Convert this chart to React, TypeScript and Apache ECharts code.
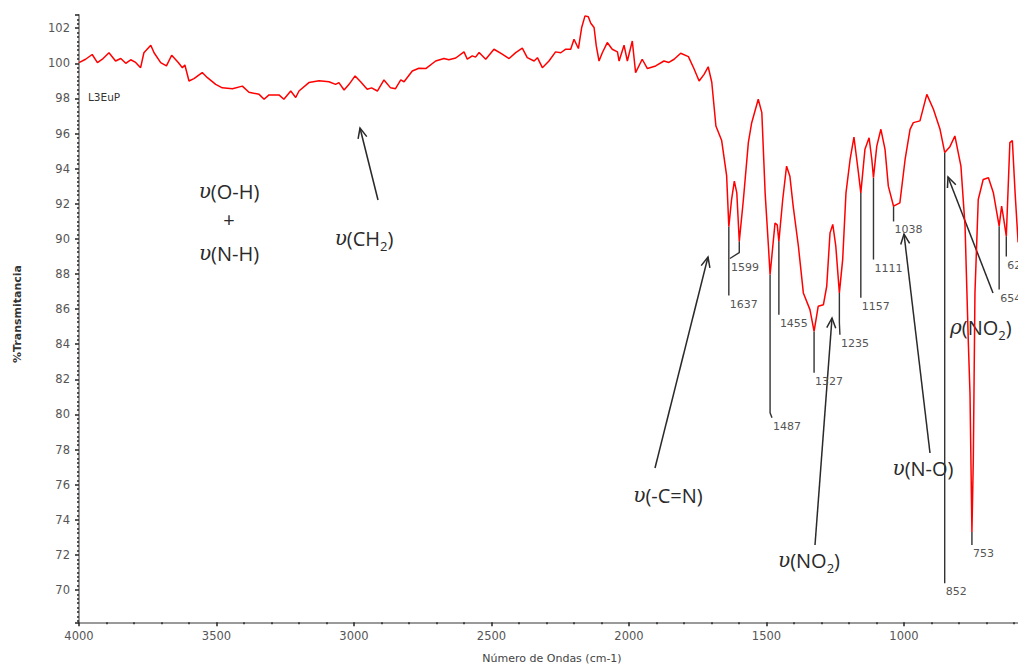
import React, { useEffect, useRef } from "react";
import * as echarts from "echarts";

// IR spectrum (wavenumber cm-1, %T)
const wavenumbers = [
  4000, 3976, 3952, 3933, 3915, 3891, 3867, 3848, 3830, 3812, 3794, 3776, 3764, 3739, 3727, 3703,
  3682, 3663, 3639, 3624, 3615, 3600, 3582, 3552, 3533, 3503, 3479, 3442, 3406, 3382, 3345, 3327,
  3309, 3273, 3255, 3230, 3212, 3200, 3164, 3127, 3091, 3067, 3055, 3036, 3018, 2996, 2976, 2952,
  2936, 2915, 2891, 2867, 2849, 2830, 2818, 2788, 2764, 2739, 2703, 2673, 2655, 2630, 2600, 2588,
  2570, 2558, 2545, 2521, 2491, 2461, 2436, 2412, 2388, 2370, 2345, 2333, 2315, 2291, 2267, 2248,
  2230, 2212, 2200, 2184, 2172, 2160, 2148, 2139, 2127, 2119, 2109, 2097, 2079, 2061, 2042, 2036,
  2018, 2006, 1997, 1988, 1976, 1952, 1933, 1903, 1873, 1855, 1836, 1812, 1784, 1764, 1745, 1727,
  1712, 1699, 1684, 1663, 1645, 1637, 1627, 1617, 1608, 1599, 1584, 1566, 1554, 1530, 1517, 1505,
  1493, 1487, 1469, 1461, 1455, 1441, 1427, 1415, 1403, 1384, 1366, 1342, 1327, 1312, 1293, 1281,
  1269, 1259, 1248, 1235, 1223, 1211, 1196, 1182, 1166, 1157, 1142, 1127, 1117, 1111, 1099, 1084,
  1069, 1057, 1038, 1015, 996, 978, 966, 942, 917, 893, 869, 852, 833, 815, 793, 778,
  766, 760, 753, 748, 742, 730, 712, 693, 675, 654, 645, 639, 628, 615, 606, 596, 585,
];
const transmittance = [
  100.04, 100.23, 100.5, 100.04, 100.23, 100.6, 100.13, 100.27, 100.0, 100.2, 100.05, 99.75, 100.6, 101.03, 100.6, 100.04,
  99.85, 100.46, 100.04, 99.75, 99.9, 98.99, 99.13, 99.47, 99.18, 98.8, 98.6, 98.55, 98.7, 98.35, 98.23, 97.95,
  98.2, 98.2, 97.95, 98.42, 98.05, 98.42, 98.9, 99.0, 98.95, 98.8, 98.9, 98.48, 98.8, 99.28, 98.95, 98.52,
  98.6, 98.42, 99.05, 98.6, 98.55, 99.05, 98.95, 99.56, 99.72, 99.7, 100.13, 100.27, 100.2, 100.3, 100.65, 100.23,
  100.42, 100.35, 100.61, 100.23, 100.8, 100.52, 100.27, 100.61, 100.86, 100.32, 100.13, 100.32, 99.75, 100.13, 100.65, 100.6,
  100.8, 100.8, 101.37, 100.84, 102.04, 102.7, 102.65, 102.28, 102.04, 100.99, 100.13, 100.6, 101.18, 100.8, 100.65, 100.13,
  101.03, 100.13, 100.7, 101.27, 99.47, 100.23, 99.7, 99.85, 100.13, 100.05, 100.23, 100.57, 100.38, 99.7, 98.99, 99.37,
  99.8, 98.92, 96.43, 95.6, 93.6, 90.7, 92.24, 93.29, 92.62, 89.86, 92.24, 95.48, 96.6, 97.95, 97.19, 92.62,
  89.58, 87.96, 90.9, 90.8, 89.86, 92.24, 94.14, 93.57, 91.86, 89.58, 86.92, 85.97, 84.73, 86.16, 86.25, 87.3,
  90.34, 90.82, 89.58, 86.92, 88.82, 92.62, 94.52, 95.8, 93.8, 92.62, 95.1, 95.76, 94.52, 93.48, 95.28, 96.24,
  95.1, 93.0, 91.86, 92.05, 94.52, 96.24, 96.62, 96.72, 98.23, 97.38, 96.24, 94.92, 95.25, 95.86, 94.14, 90.72,
  84.07, 81.2, 73.3, 77.41, 86.92, 92.24, 93.38, 93.48, 92.62, 90.72, 91.86, 91.3, 90.15, 95.48, 95.6, 92.62, 89.8,
];

// Labelled peaks
const peakWn = [1637, 1599, 1487, 1455, 1327, 1235, 1157, 1111, 1038, 852, 753, 654, 628];
// leader-line layout (end of the vertical leader, in %T) and optional jog point
const leaderEndT = [86.77, 89.22, 80.09, 85.68, 82.37, 85.23, 86.65, 88.82, 90.99, 70.39, 72.56, 87.11, 88.99];
const leaderJog: Array<[number, number] | null> = [
  null, [1633, 88.88], [1480, 79.81], null, null, [1233, 84.54], null, null, null, null, null, null, null,
];

const nearestT = (wn: number) => {
  let best = 0;
  for (let i = 1; i < wavenumbers.length; i++) {
    if (Math.abs(wavenumbers[i] - wn) < Math.abs(wavenumbers[best] - wn)) best = i;
  }
  return transmittance[best];
};

const INK = "#2a2a2a";

function arrow(x1: number, y1: number, x2: number, y2: number) {
  const ang = Math.atan2(y2 - y1, x2 - x1);
  const L = 11;
  const a = 0.42;
  const l = [x2 - L * Math.cos(ang - a), y2 - L * Math.sin(ang - a)];
  const r = [x2 - L * Math.cos(ang + a), y2 - L * Math.sin(ang + a)];
  return [
    { type: "line", shape: { x1, y1, x2, y2 }, style: { stroke: INK, lineWidth: 1.5 }, silent: true },
    { type: "polyline", shape: { points: [l, [x2, y2], r] }, style: { stroke: INK, lineWidth: 1.5, fill: null }, silent: true },
  ];
}

const richStyles = {
  g: { fontFamily: "DejaVu Serif", fontStyle: "italic", fontSize: 20, lineHeight: 28, fill: INK },
  t: { fontFamily: "Open Sans", fontSize: 20, lineHeight: 28, fill: INK },
  s: { fontFamily: "Open Sans", fontSize: 13, lineHeight: 14, verticalAlign: "bottom", fill: INK },
};

function label(text: string, x: number, y: number, align = "center") {
  return {
    type: "text",
    x,
    y,
    silent: true,
    style: { text, align, verticalAlign: "middle", rich: richStyles, fill: INK, fontSize: 20, fontFamily: "Open Sans" },
  };
}

export default function App() {
  const ref = useRef<HTMLDivElement>(null);
  useEffect(() => {
    if (!ref.current) return;
    const chart = echarts.init(ref.current, null, { renderer: "svg" });
    const lineData = wavenumbers.map((w, i) => [w, transmittance[i]]);
    const peakData = peakWn.map((w) => [w, nearestT(w)]);

    const option: any = {
      animation: false,
      backgroundColor: "#ffffff",
      grid: { left: 79, top: 15, width: 962.5, height: 607.3, containLabel: false, outerBoundsMode: "none" },
      xAxis: {
        type: "value",
        inverse: true,
        min: 500,
        max: 4000,
        interval: 500,
        axisLine: { onZero: false, lineStyle: { color: "#9a9a9a", width: 2 } },
        axisTick: { show: true, length: 4, lineStyle: { color: "#222", width: 1.5 } },
        minorTick: { show: true, splitNumber: 5, length: 2, lineStyle: { color: "#222", width: 1.5 } },
        splitLine: { show: false },
        minorSplitLine: { show: false },
        axisLabel: {
          color: "#555",
          fontSize: 11.5,
          fontFamily: "DejaVu Sans",
          margin: 8,
          showMinLabel: false,
          formatter: (v: number) => String(v),
        },
      },
      yAxis: {
        type: "value",
        min: 68.16,
        max: 102.75,
        splitNumber: 17,
        axisLine: { show: true, onZero: false, lineStyle: { color: "#9a9a9a", width: 2 } },
        axisTick: { show: true, length: 4, lineStyle: { color: "#222", width: 1.5 } },
        minorTick: { show: true, splitNumber: 8, length: 2, lineStyle: { color: "#222", width: 1.5 } },
        splitLine: { show: false },
        minorSplitLine: { show: false },
        axisLabel: {
          showMinLabel: false,
          showMaxLabel: false,
          color: "#555",
          fontSize: 11.5,
          fontFamily: "DejaVu Sans",
          margin: 9,
          formatter: (v: number) => String(v),
        },
      },
      series: [
        {
          type: "custom",
          coordinateSystem: "cartesian2d",
          data: peakData,
          encode: { x: 0, y: 1 },
          silent: true,
          z: 1,
          renderItem: (params: any, api: any) => {
            const i = params.dataIndex;
            const p0 = api.coord([peakWn[i], nearestT(peakWn[i])]);
            const p1 = api.coord([peakWn[i], leaderEndT[i]]);
            const pts = [p0, p1];
            const jog = leaderJog[i];
            if (jog) pts.push(api.coord(jog));
            const last = pts[pts.length - 1];
            return {
              type: "group",
              children: [
                { type: "polyline", shape: { points: pts }, style: { stroke: "#333", lineWidth: 1.4, fill: null } },
                {
                  type: "text",
                  x: last[0] + 1,
                  y: last[1] + 3,
                  style: {
                    text: String(peakWn[i]),
                    fill: "#555",
                    fontSize: 11,
                    fontFamily: "DejaVu Sans",
                    align: "left",
                    verticalAlign: "top",
                  },
                },
              ],
            };
          },
        },
        {
          type: "line",
          data: lineData,
          showSymbol: false,
          symbol: "none",
          z: 2,
          lineStyle: { color: "#ff0000", width: 1.5 },
        },
      ],
      graphic: [
        {
          type: "text",
          x: 88,
          y: 97,
          silent: true,
          style: { text: "L3EuP", fill: "#333", fontSize: 10.5, fontFamily: "DejaVu Sans", align: "left", verticalAlign: "middle" },
        },
        {
          type: "text",
          x: 17,
          y: 314,
          rotation: Math.PI / 2,
          silent: true,
          style: {
            text: "%Transmitancia",
            fill: "#333",
            fontSize: 11,
            fontWeight: "bold",
            fontFamily: "DejaVu Sans",
            align: "center",
            verticalAlign: "middle",
          },
        },
        {
          type: "text",
          x: 552,
          y: 658,
          silent: true,
          style: {
            text: "Número de Ondas (cm-1)",
            fill: "#444",
            fontSize: 11,
            fontFamily: "DejaVu Sans",
            align: "center",
            verticalAlign: "middle",
          },
        },
        label("{g|υ}{t|(O-H)}", 229, 191),
        label("{t|+}", 229, 219),
        label("{g|υ}{t|(N-H)}", 229, 253),
        label("{g|υ}{t|(CH}{s|2}{t|)}", 364, 238),
        label("{g|υ}{t|(-C=N)}", 668, 495),
        label("{g|υ}{t|(NO}{s|2}{t|)}", 809, 560),
        label("{g|υ}{t|(N-O)}", 923, 468),
        label("{g|ρ}{t|(NO}{s|2}{t|)}", 950, 327, "left"),
        ...arrow(378, 200, 360, 128),
        ...arrow(655, 468, 708, 257),
        ...arrow(815, 545, 832, 318),
        ...arrow(930, 453, 904, 234),
        ...arrow(993, 293, 948, 177),
      ],
    };
    chart.setOption(option);
    return () => chart.dispose();
  }, []);

  return (
    <div
      style={{
        position: "fixed",
        left: 0,
        top: 0,
        width: 1018,
        height: 666,
        overflow: "hidden",
        background: "#fff",
      }}
    >
      <div ref={ref} style={{ width: 1120, height: 666 }} />
    </div>
  );
}
